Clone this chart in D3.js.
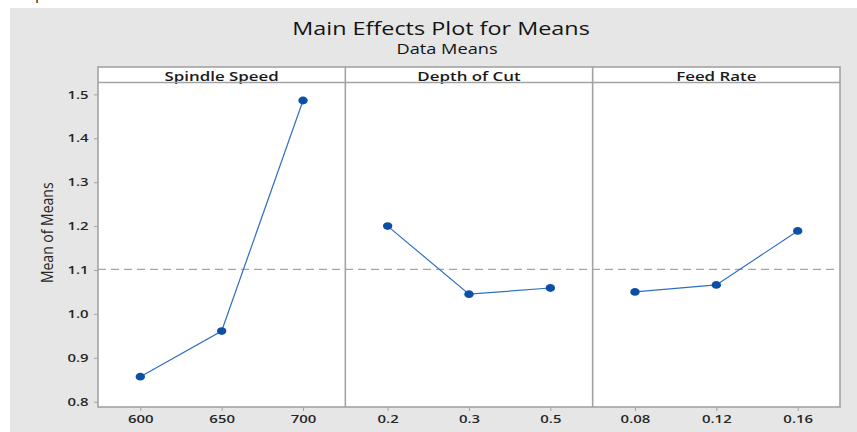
<!DOCTYPE html>
<html>
<head>
<meta charset="utf-8">
<script src="https://cdn.jsdelivr.net/npm/d3@7"></script>
<style>
  html, body { margin: 0; padding: 0; background: #ffffff; }
  svg { display: block; }
  text { font-family: "Open Sans", "Noto Sans", sans-serif; }
</style>
</head>
<body>
<svg id="chart" width="857" height="432"></svg>
<script>
// Factor names and their levels
const factors = ["Spindle Speed", "Depth of Cut", "Feed Rate"];
const spindleLevels = ["600", "650", "700"];
const depthLevels = ["0.2", "0.3", "0.5"];
const feedLevels = ["0.08", "0.12", "0.16"];

// Mean of means at each level
const spindleMeans = [0.857, 0.961, 1.486];
const depthMeans = [1.200, 1.045, 1.059];
const feedMeans = [1.050, 1.066, 1.189];

// Y tick values
const yTicks = [0.8, 0.9, 1.0, 1.1, 1.2, 1.3, 1.4, 1.5];

const panels = [
  { name: factors[0], levels: spindleLevels, means: spindleMeans },
  { name: factors[1], levels: depthLevels, means: depthMeans },
  { name: factors[2], levels: feedLevels, means: feedMeans }
];

const grandMean = d3.mean(spindleMeans);

const svg = d3.select("#chart");
const W = 857, H = 432;

// The whole graphic is drawn with a wide aspect: text is stretched horizontally
const SX = 1.3;

// Plot area geometry
const frame = { left: 98, right: 840, top: 67, bottom: 407 };
const stripH = 15.5;
const plotTop = frame.top + stripH;
const panelW = (frame.right - frame.left) / panels.length;

const frameColor = "#a3a3a3";
const textColor = "#262626";

function wideText(parent, x, y, str, size, weight, fill) {
  return parent.append("text")
    .attr("transform", `translate(${x},${y}) scale(${SX},1)`)
    .attr("text-anchor", "middle")
    .attr("font-size", size).attr("font-weight", weight).attr("fill", fill)
    .text(str);
}

// Outer background
svg.append("rect").attr("x", 0).attr("y", 0).attr("width", W).attr("height", H).attr("fill", "#ffffff");
svg.append("rect").attr("x", 10).attr("y", 8).attr("width", W - 10).attr("height", H - 8).attr("fill", "#e6e6e6");

// Fragment of a glyph from the line above
svg.append("text").attr("x", 35).attr("y", -1).attr("font-family", "Liberation Serif, serif")
  .attr("font-size", 16).attr("fill", "#222").text("p");

// Titles
wideText(svg, 441, 34.5, "Main Effects Plot for Means", 18, 400, "#141414");
wideText(svg, 447, 53.5, "Data Means", 14, 400, "#141414");

// Y scale (shared across panels)
const y = d3.scaleLinear().domain([0.788, 1.527]).range([frame.bottom, plotTop]);

// White plotting field
svg.append("rect").attr("x", frame.left).attr("y", frame.top)
  .attr("width", frame.right - frame.left).attr("height", frame.bottom - frame.top)
  .attr("fill", "#ffffff");

// Y axis
const yAxis = svg.append("g").attr("transform", `translate(${frame.left},0)`)
  .call(d3.axisLeft(y).tickValues(yTicks).tickFormat(d3.format(".1f")).tickSize(4).tickPadding(3));
yAxis.select(".domain").remove();
yAxis.selectAll(".tick line").attr("stroke", frameColor);
yAxis.selectAll(".tick text")
  .attr("x", -7.2).attr("transform", `scale(${SX},1)`)
  .attr("font-size", 11.5).attr("font-weight", 600).attr("fill", textColor)
  .attr("font-family", "Open Sans, sans-serif");

// Y axis title
svg.append("text")
  .attr("transform", `translate(52.5,${(plotTop + frame.bottom) / 2 - 12}) scale(1.12,1) rotate(-90)`)
  .attr("text-anchor", "middle").attr("font-size", 14).attr("fill", textColor)
  .text("Mean of Means");

// Reference line at the overall mean
svg.append("line")
  .attr("x1", frame.left).attr("x2", frame.right)
  .attr("y1", y(grandMean)).attr("y2", y(grandMean))
  .attr("stroke", "#a6a6a6").attr("stroke-width", 1.2).attr("stroke-dasharray", "8,5");

const line = d3.line();

panels.forEach((p, i) => {
  const x0 = frame.left + i * panelW;
  const x = d3.scalePoint().domain(p.levels).range([x0, x0 + panelW]).padding(0.52);
  const g = svg.append("g");

  // X axis
  const xa = g.append("g").attr("transform", `translate(0,${frame.bottom})`)
    .call(d3.axisBottom(x).tickSize(4).tickPadding(4));
  xa.select(".domain").remove();
  xa.selectAll(".tick line").attr("stroke", frameColor);
  xa.selectAll(".tick text").attr("transform", `scale(${SX},1)`)
    .attr("font-size", 11.5).attr("font-weight", 600).attr("fill", textColor)
    .attr("font-family", "Open Sans, sans-serif");

  // Strip label
  wideText(g, x0 + panelW / 2, frame.top + 13.5, p.name, 13, 600, "#1a1a1a");

  const pts = p.levels.map((l, k) => [x(l), y(p.means[k])]);

  g.append("path").attr("d", line(pts)).attr("fill", "none")
    .attr("stroke", "#2f6fc4").attr("stroke-width", 1.2);

  g.selectAll("ellipse").data(pts).join("ellipse")
    .attr("cx", d => d[0]).attr("cy", d => d[1]).attr("rx", 4.7).attr("ry", 3.9)
    .attr("fill", "#0b4fa6");
});

// Frame, strip separator and panel dividers
svg.append("rect").attr("x", frame.left).attr("y", frame.top)
  .attr("width", frame.right - frame.left).attr("height", frame.bottom - frame.top)
  .attr("fill", "none").attr("stroke", frameColor).attr("stroke-width", 1.6);
svg.append("line").attr("x1", frame.left).attr("x2", frame.right)
  .attr("y1", plotTop).attr("y2", plotTop).attr("stroke", frameColor).attr("stroke-width", 1.6);
for (let i = 1; i < panels.length; i++) {
  const xd = frame.left + i * panelW;
  svg.append("line").attr("x1", xd).attr("x2", xd).attr("y1", frame.top).attr("y2", frame.bottom)
    .attr("stroke", frameColor).attr("stroke-width", 1.6);
}
</script>
</body>
</html>
